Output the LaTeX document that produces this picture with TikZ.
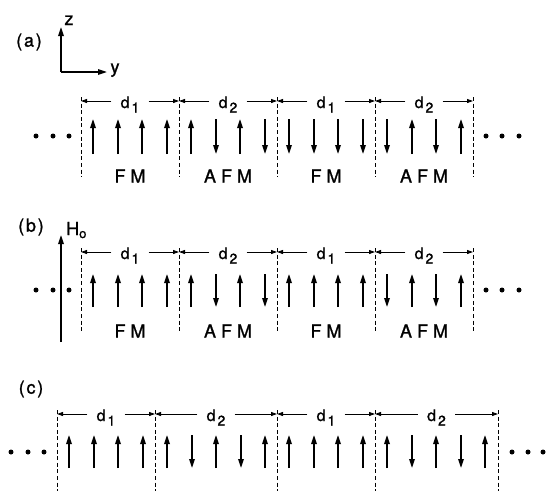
\documentclass[tikz,border=0pt]{standalone}
\usepackage{fontspec}
\setmainfont[FakeBold=1.2]{TeX Gyre Heros}
\usetikzlibrary{arrows.meta}
\newcommand\lsp{\kern5pt}
\newcommand\psp{\kern1.8pt}
\newcommand\dsub[1]{d\raisebox{-4.5pt}{\fontsize{14}{14}\selectfont\kern2pt #1}}
\newcommand\spinrow[4]{%
  \foreach \s [count=\i from 0] in {#4} {
    \pgfmathsetmacro\xx{round(#1+12+24.5*\i)}
    \if\s U \draw[spin] (\xx,#3) -- (\xx,#2);
    \else \draw[spin] (\xx,#2) -- (\xx,#3); \fi
  }%
}
\newcommand\dimline[5]{%
  \node[dlab] (#5) at ({(#1+#2)/2},{#3+7}) {#4};
  \coordinate (#5-a) at (#1,#3);
  \coordinate (#5-b) at (#2,#3);
  \draw[dim] (#5.west |- #5-a) -- (#5-a);
  \draw[dim] (#5.east |- #5-b) -- (#5-b);
}
\begin{document}
\begin{tikzpicture}[x=1pt,y=-1pt,
  spin/.style={line width=1.6pt,-{Triangle[length=9pt,width=5.5pt]}},
  bound/.style={line width=0.9pt,dash pattern=on 4pt off 2.6pt},
  dim/.style={line width=0.9pt,-{Triangle[length=6pt,width=4pt]}},
  dot/.style={circle,fill,inner sep=0pt,minimum size=5pt},
  lbl/.style={font=\fontsize{18}{18}\selectfont,inner sep=0pt},
  dlab/.style={font=\fontsize{16}{16}\selectfont,anchor=base,inner xsep=9pt,inner ysep=0pt},
]
\useasboundingbox (0,0) rectangle (547,491);

% ---------------- (a) ----------------
\node[lbl] (la) at (29,42) {(\psp a\psp)};
\coordinate (ax0) at (61,72);
\coordinate (axz) at (61,27);
\coordinate (axy) at (107,72);
\draw[spin] (ax0) -- (axz);
\draw[spin] (ax0) -- (axy);
\node[lbl,anchor=base] (z) at (69,25) {z};
\node[lbl,anchor=base] (y) at (115,73) {y};

\foreach \b in {81,179,277,375,473} \draw[bound] (\b,97) -- (\b,177);
\dimline{81}{179}{101}{\dsub{1}}{a1}
\dimline{179}{277}{101}{\dsub{2}}{a2}
\dimline{277}{375}{101}{\dsub{1}}{a3}
\dimline{375}{473}{101}{\dsub{2}}{a4}
\spinrow{81}{119}{154}{U,U,U,U}
\spinrow{179}{119}{154}{U,D,U,D}
\spinrow{277}{119}{154}{D,D,D,D}
\spinrow{375}{119}{154}{D,U,D,U}
\node[lbl] (fa1) at (130,176) {F\lsp M};
\node[lbl] (fa2) at (228,176) {A\lsp F\lsp M};
\node[lbl] (fa3) at (326,176) {F\lsp M};
\node[lbl] (fa4) at (424,176) {A\lsp F\lsp M};
\foreach \x in {36,53,69,486,502,519} \node[dot] at (\x,136) {};

% ---------------- (b) ----------------
\node[lbl] (lb) at (31,227) {(\psp b\psp)};
\coordinate (h0) at (61,342);
\coordinate (h1) at (61,235);
\draw[spin] (h0) -- (h1);
\node[lbl,anchor=base west] (H) at (66,235) {H\raisebox{-3pt}{\fontsize{13}{13}\selectfont o}};
\foreach \b in {81,179,277,375,473} \draw[bound] (\b,248) -- (\b,331);
\dimline{81}{179}{252}{\dsub{1}}{b1}
\dimline{179}{277}{252}{\dsub{2}}{b2}
\dimline{277}{375}{252}{\dsub{1}}{b3}
\dimline{375}{473}{252}{\dsub{2}}{b4}
\spinrow{81}{274}{307}{U,U,U,U}
\spinrow{179}{274}{307}{U,D,U,D}
\spinrow{277}{274}{307}{U,U,U,U}
\spinrow{375}{274}{307}{D,U,D,U}
\node[lbl] (fb1) at (130,331) {F\lsp M};
\node[lbl] (fb2) at (228,331) {A\lsp F\lsp M};
\node[lbl] (fb3) at (326,331) {F\lsp M};
\node[lbl] (fb4) at (424,331) {A\lsp F\lsp M};
\foreach \x in {36,53,69,486,502,519} \node[dot] at (\x,290) {};

% ---------------- (c) ----------------
\node[lbl] (lc) at (31,389) {(\psp c\psp)};
\foreach \b in {57,155,277,375,498} \draw[bound] (\b,410) -- (\b,491);
\dimline{57}{155}{414}{\dsub{1}}{c1}
\dimline{155}{277}{414}{\dsub{2}}{c2}
\dimline{277}{375}{414}{\dsub{1}}{c3}
\dimline{375}{498}{414}{\dsub{2}}{c4}
\spinrow{57}{435}{468}{U,U,U,U}
\spinrow{155}{435}{468}{U,D,U,D,U}
\spinrow{277}{435}{468}{U,U,U,U}
\spinrow{375}{435}{468}{U,D,U,D,U}
\foreach \x in {11,28,44,512,528,543} \node[dot] at (\x,452) {};
\end{tikzpicture}
\end{document}
